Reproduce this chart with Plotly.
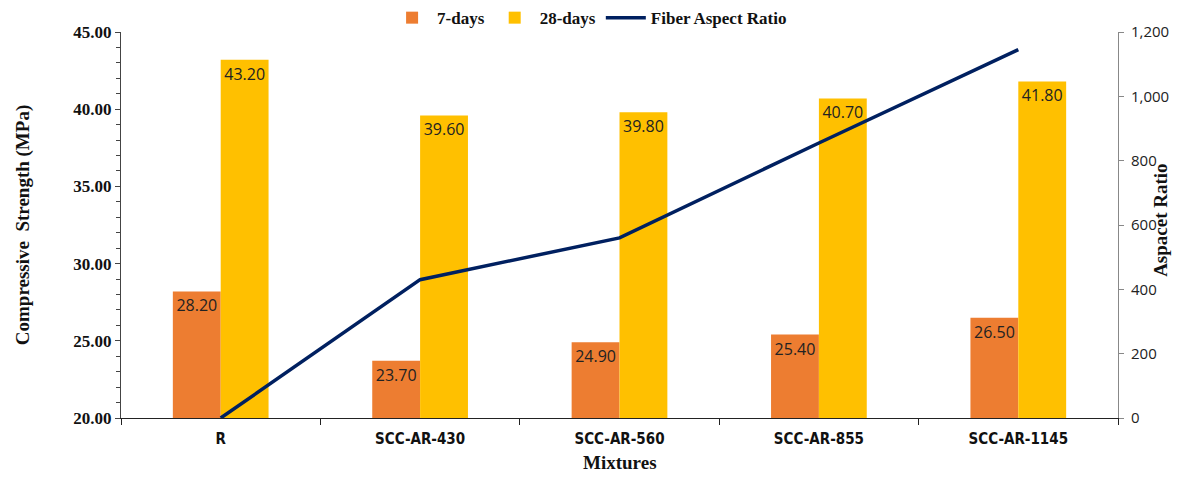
import plotly.graph_objects as go

categories = ["R", "SCC-AR-430", "SCC-AR-560", "SCC-AR-855", "SCC-AR-1145"]
days7 = [28.20, 23.70, 24.90, 25.40, 26.50]
days28 = [43.20, 39.60, 39.80, 40.70, 41.80]
aspect_ratio = [0, 430, 560, 855, 1145]

label_font = dict(family="Open Sans, Liberation Sans, sans-serif", size=16, color="#222222")
serif_bold = "Liberation Serif, Times New Roman, serif"
title_font = dict(family=serif_bold, size=19, color="#111111", weight="bold")

fig = go.Figure()
fig.add_trace(go.Bar(
    x=categories, y=[v - 20 for v in days7], base=20, name="7-days",
    marker=dict(color="#ED7D31", line=dict(width=0)),
    text=[f"{v:.2f}" for v in days7], textposition="inside",
    insidetextanchor="end", textfont=label_font, textangle=0,
    hoverinfo="skip",
))
fig.add_trace(go.Bar(
    x=categories, y=[v - 20 for v in days28], base=20, name="28-days",
    marker=dict(color="#FFC000", line=dict(width=0)),
    text=[f"{v:.2f}" for v in days28], textposition="inside",
    insidetextanchor="end", textfont=label_font, textangle=0,
    hoverinfo="skip",
))
fig.add_trace(go.Scatter(
    x=categories, y=aspect_ratio, name="Fiber Aspect Ratio", yaxis="y2",
    mode="lines", line=dict(color="#002060", width=3.5),
))

fig.update_layout(
    width=1187, height=465,
    margin=dict(l=113, r=77, t=24, b=55, autoexpand=False),
    paper_bgcolor="white", plot_bgcolor="white",
    barmode="group", bargap=0.52, bargroupgap=0,
    showlegend=True,
    legend=dict(orientation="h", x=0.47, xanchor="center", y=1.036, yanchor="middle",
                font=dict(family=serif_bold, size=17, color="#111111", weight="bold"),
                itemwidth=40, traceorder="normal", bgcolor="rgba(0,0,0,0)"),
    xaxis=dict(
        tickson="boundaries", ticks="outside", ticklen=6, tickcolor="#222222",
        showline=True, linecolor="#222222", linewidth=1, showgrid=False,
        ticklabelstandoff=7,
        tickfont=dict(family="Liberation Sans Narrow, DejaVu Sans Condensed, Arial Narrow, sans-serif",
                      size=15, color="#111111", weight="bold"),
    ),
    yaxis=dict(
        range=[20, 45], tickvals=[20, 25, 30, 35, 40, 45],
        ticktext=["20.00", "25.00", "30.00", "35.00", "40.00", "45.00"],
        ticks="outside", ticklen=5, tickcolor="#444444",
        minor=dict(dtick=1, ticks="outside", ticklen=4, tickcolor="#444444"),
        showline=True, linecolor="#444444", linewidth=1, showgrid=False, zeroline=False,
        tickfont=dict(family=serif_bold, size=17, color="#111111", weight="bold"),
        title=dict(text="Compressive  Strength (MPa)", font=title_font, standoff=38),
    ),
    yaxis2=dict(
        overlaying="y", side="right", range=[0, 1200], dtick=200,
        tickformat=",d", ticks="outside", ticklen=5, tickcolor="#888888",
        showline=True, linecolor="#888888", linewidth=1, showgrid=False, zeroline=False,
        ticklabelstandoff=4,
        tickfont=dict(family="Open Sans, Liberation Sans, sans-serif", size=15, color="#222222"),
    ),
    annotations=[
        dict(text="Aspacet Ratio", xref="paper", yref="paper", x=1.043, y=0.513,
             xanchor="center", yanchor="middle", textangle=-90, showarrow=False,
             font=title_font),
        dict(text="Mixtures", xref="paper", yref="paper", x=0.5, y=-0.115,
             xanchor="center", yanchor="middle", showarrow=False, font=title_font),
    ],
)

fig.write_html("out.html")
